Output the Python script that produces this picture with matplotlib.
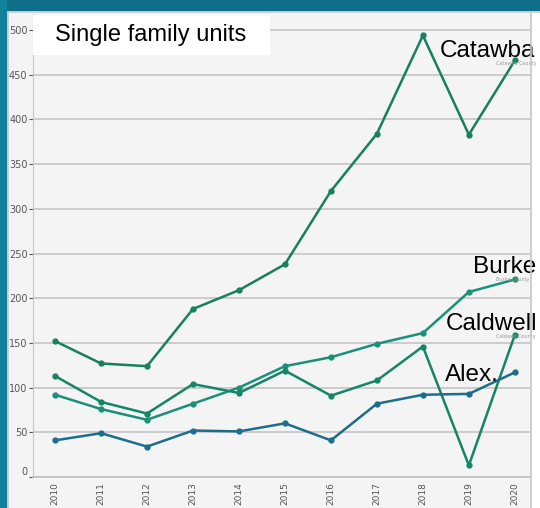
import matplotlib.pyplot as plt
import matplotlib.patches as mpatches

years = [2010, 2011, 2012, 2013, 2014, 2015, 2016, 2017, 2018, 2019, 2020]
catawba = [152, 127, 124, 188, 209, 238, 320, 384, 494, 383, 466]
burke = [92, 76, 64, 82, 100, 124, 134, 149, 161, 207, 221]
caldwell = [113, 84, 71, 104, 94, 119, 91, 108, 146, 13, 159]
alex = [41, 49, 34, 52, 51, 60, 41, 82, 92, 93, 117]

series = [
    ("Catawba", "Catawba County", catawba, "#16805f"),
    ("Burke", "Burke County", burke, "#1a9077"),
    ("Caldwell", "Caldwell County", caldwell, "#148566"),
    ("Alex.", "", alex, "#1d6d8c"),
]
# where the big labels sit, data coords
label_pos = {
    "Catawba": (2018.37, 470),
    "Burke": (2019.08, 228),
    "Caldwell": (2018.5, 164),
    "Alex.": (2018.48, 107),
}

W, H = 540, 508
fig = plt.figure(figsize=(W / 100, H / 100), dpi=100)
fig.patch.set_facecolor("#f4f4f4")

# teal frame on top and left
fig.add_artist(mpatches.Rectangle((0, 1 - 10 / H), 1, 10 / H, transform=fig.transFigure,
                                  color="#0f6e88", zorder=0))
fig.add_artist(mpatches.Rectangle((0, 0), 6 / W, 1, transform=fig.transFigure,
                                  color="#12829c", zorder=0))
fig.add_artist(plt.Line2D([8 / W, 8 / W], [0, 1 - 12 / H], transform=fig.transFigure,
                          color="#c8c8c8", lw=1.2))
fig.add_artist(plt.Line2D([8 / W, 1], [1 - 12 / H, 1 - 12 / H], transform=fig.transFigure,
                          color="#c8c8c8", lw=1.2))
fig.add_artist(plt.Line2D([531 / W, 531 / W], [0, 1 - 12 / H], transform=fig.transFigure,
                          color="#c8c8c8", lw=1.2))
fig.add_artist(mpatches.Rectangle((532 / W, 0), 8 / W, 1 - 12 / H, transform=fig.transFigure,
                                  color="white", zorder=0))

ax = fig.add_axes([33 / W, (H - 477) / H, 497 / W, 463 / H])
ax.set_facecolor("#f4f4f4")
ax.set_xlim(2009.52, 2020.33)
ax.set_ylim(0, 518)

for name, sub, vals, col in series:
    ax.plot(years, vals, color=col, lw=1.8, marker="o", ms=3.5, zorder=3)

for name, sub, vals, col in series:
    x, y = label_pos[name]
    ax.text(x, y, name, fontsize=17.5, family=["Liberation Sans", "DejaVu Sans"],
            color="black", zorder=5)
    if sub:
        ax.text(2019.6, y - 9, sub, fontsize=3.5, color="#999999", zorder=4)

yt = [0, 50, 100, 150, 200, 250, 300, 350, 400, 450, 500]
ax.set_yticks(yt)
ax.set_yticklabels([str(v) for v in yt])
ax.grid(axis="y", color="#c4c4c4", lw=1.2)
ax.set_axisbelow(True)
ax.set_xticks(years)
ax.set_xticklabels([str(y) for y in years], rotation=90)
ax.tick_params(axis="y", labelsize=7, colors="#555555", length=3, width=0.8, pad=1)
ax.tick_params(axis="x", labelsize=6.5, colors="#555555", length=0, pad=4)
ax.get_yticklabels()[0].set_va("bottom")

for s in ["top", "right"]:
    ax.spines[s].set_visible(False)
ax.spines["left"].set_color("#c8c8c8")
ax.spines["bottom"].set_color("#c0c0c0")
ax.spines["bottom"].set_linewidth(1.2)

# title box
ax.add_patch(mpatches.Rectangle((0, 0.912), 237 / 497, 40 / 463, transform=ax.transAxes,
                                facecolor="white", edgecolor="none", zorder=4))
ax.text(22 / 497, 0.955, "Single family units", transform=ax.transAxes, fontsize=17,
        family=["Liberation Sans", "DejaVu Sans"], va="center", zorder=5)

fig.savefig("out.png", dpi=100, facecolor=fig.get_facecolor())
